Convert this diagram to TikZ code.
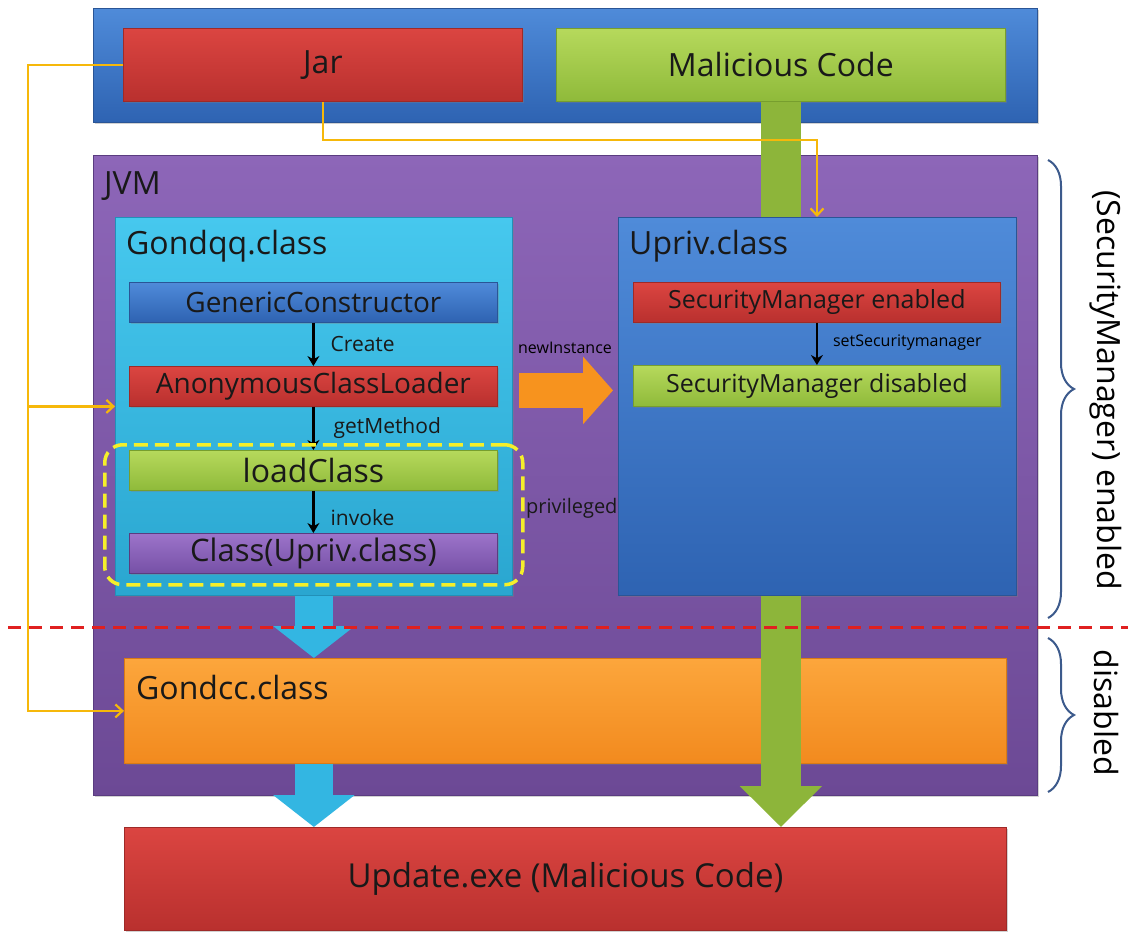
\documentclass[tikz,border=0pt]{standalone}
\usepackage{fontspec}
\setmainfont{Open Sans}
\usetikzlibrary{arrows.meta,calc,decorations.pathreplacing,shadows}
\definecolor{blueT}{HTML}{4F8BD9}
\definecolor{blueB}{HTML}{2E63B2}
\definecolor{blueD}{HTML}{2A5596}
\definecolor{redT}{HTML}{DB4541}
\definecolor{redB}{HTML}{B9302E}
\definecolor{redD}{HTML}{9E2A28}
\definecolor{grnT}{HTML}{B6D95C}
\definecolor{grnB}{HTML}{8FBA3A}
\definecolor{grnD}{HTML}{779E2E}
\definecolor{purT}{HTML}{8D66B8}
\definecolor{purB}{HTML}{6C4995}
\definecolor{purD}{HTML}{5A3C80}
\definecolor{cyaT}{HTML}{46C8EE}
\definecolor{cyaB}{HTML}{2AA6D0}
\definecolor{cyaD}{HTML}{2290B8}
\definecolor{cpuT}{HTML}{9C74CA}
\definecolor{cpuB}{HTML}{7650A6}
\definecolor{oraT}{HTML}{FCA63C}
\definecolor{oraB}{HTML}{F28A1E}
\definecolor{oraD}{HTML}{D97A15}
\definecolor{goldC}{HTML}{F6B80A}
\definecolor{yelC}{HTML}{F5EF2A}
\definecolor{braceC}{HTML}{3C5A8C}
\definecolor{greenArr}{HTML}{8DB53A}
\definecolor{cyanArr}{HTML}{33B6E2}
\definecolor{orgArr}{HTML}{F7931E}
\definecolor{dashRed}{HTML}{E02020}
\begin{document}
\begin{tikzpicture}[x=1pt,y=-1pt,
  base/.style={inner sep=0pt, anchor=north west, line width=0.8pt, text=black!90,
    drop shadow={opacity=0.35, shadow xshift=2pt, shadow yshift=-2pt}},
  bigf/.style={font=\fontsize{32}{36}\selectfont},
  barf/.style={font=\fontsize{28}{32}\selectfont},
  smbarf/.style={font=\fontsize{25}{29}\selectfont},
  smf/.style={font=\fontsize{21}{25}\selectfont},
  tinyf/.style={font=\fontsize{16}{19}\selectfont},
  bluebox/.style={top color=blueT, bottom color=blueB, draw=blueD},
  redbox/.style={top color=redT, bottom color=redB, draw=redD},
  grnbox/.style={top color=grnT, bottom color=grnB, draw=grnD},
  purbox/.style={top color=purT, bottom color=purB, draw=purD},
  cyabox/.style={top color=cyaT, bottom color=cyaB, draw=cyaD},
  cpubox/.style={top color=cpuT, bottom color=cpuB, draw=purD},
  orabox/.style={top color=oraT, bottom color=oraB, draw=oraD},
  title/.style={bigf, anchor=west, text=black!90, inner sep=0pt},
  conn/.style={draw=goldC, line width=2.2pt, -{Straight Barb[length=7pt,width=13pt]}},
  blk/.style={draw=black, line width=2.6pt, -{Stealth[length=10pt,width=12pt]}},
  lbl/.style={smf, anchor=west, text=black!90, inner sep=0pt},
  brc/.style={draw=braceC, line width=2pt, decorate, decoration={brace, amplitude=26pt, aspect=0.5}}
]
\useasboundingbox (0,0) rectangle (1128,932);
\fill[white] (0,0) rectangle (1128,932);

% top
\node[base, bluebox, minimum width=944pt, minimum height=114pt] (top) at (93,8) {};
\node[base, redbox, bigf, minimum width=399pt, minimum height=73pt] (jar) at (123,28) {Jar};
\node[base, grnbox, bigf, minimum width=449pt, minimum height=73pt] (mal) at (556,28) {Malicious Code};

% JVM
\node[base, purbox, minimum width=944pt, minimum height=640pt] (jvm) at (93,155) {};
\node[title] (jvml) at (104,186) {JVM};

% green bar from malicious code
\fill[greenArr] ($(mal.south)+(-20,0)$) rectangle ($(mal.south |- 0,217)+(20,0)$);

% Gondqq
\node[base, cyabox, minimum width=397pt, minimum height=378pt] (gqq) at (115,217) {};
\node[title] (gqql) at (126,246) {Gondqq.class};
\node[base, bluebox, barf, minimum width=368pt, minimum height=40pt] (gc) at (129,282) {GenericConstructor};
\node[base, redbox, barf, minimum width=368pt, minimum height=40pt] (acl) at (129,366) {AnonymousClassLoader};
\node[base, grnbox, bigf, minimum width=368pt, minimum height=40pt] (lc) at (129,450) {loadClass};
\node[base, cpubox, font=\fontsize{31}{35}\selectfont, minimum width=368pt, minimum height=40pt] (cls) at (129,533) {Class(Upriv.class)};

\draw[blk] (gc.south) -- (acl.north);
\draw[blk] (acl.south) -- (lc.north);
\draw[blk] (lc.south) -- (cls.north);
\node[lbl] (lcreate) at ($(gc.south)!0.5!(acl.north)+(17,0)$) {Create};
\node[lbl] (lget) at ($(acl.south)!0.5!(lc.north)+(20,0)$) {getMethod};
\node[lbl] (linv) at ($(lc.south)!0.5!(cls.north)+(17,6)$) {invoke};

\node[draw=yelC, line width=3.5pt, dash pattern=on 14pt off 7pt, rounded corners=18pt,
  minimum width=418pt, minimum height=140pt, anchor=north west, inner sep=0pt] (priv) at (103,443) {};
\node[lbl, font=\fontsize{20}{24}\selectfont] (lpriv) at (526,508) {privileged};

% Upriv
\node[base, bluebox, minimum width=398pt, minimum height=378pt] (upriv) at (618,217) {};
\node[title] (uprivl) at (629,246) {Upriv.class};
\node[base, redbox, smbarf, minimum width=367pt, minimum height=40pt] (sme) at (633,282) {SecurityManager enabled};
\node[base, grnbox, smbarf, minimum width=367pt, minimum height=41pt] (smd) at (633,365) {SecurityManager disabled};
\draw[blk] (sme.south) -- (smd.north);
\node[tinyf, anchor=west, inner sep=0pt] (lsec) at ($(sme.south)!0.5!(smd.north)+(16,-1)$) {setSecuritymanager};

% newInstance arrow
\draw[draw=orgArr, line width=35pt, -{Triangle[width=66pt,length=30pt]}] ($(acl.east)+(21,4)$) -- ($(upriv.west |- acl.east)+(-5,4)$);
\node[tinyf, inner sep=0pt] (lnew) at (565,348) {newInstance};

% Gondcc
\node[base, orabox, minimum width=882pt, minimum height=105pt] (gcc) at (124,658) {};
\node[title, font=\fontsize{32}{36}\selectfont] (gccl) at (136,688) {Gondcc.class};

% Update.exe
\node[base, redbox, font=\fontsize{33}{38}\selectfont, minimum width=882pt, minimum height=103pt] (upd) at (124,827) {Update.exe (Malicious Code)};

% block arrows
\draw[draw=greenArr, line width=40pt, -{Triangle[width=80pt,length=41pt]}] (mal.south |- upriv.south) -- (mal.south |- upd.north);
\draw[draw=cyanArr, line width=38pt, -{Triangle[width=80pt,length=32pt]}] (gqq.south) -- (gqq.south |- gcc.north);
\draw[draw=cyanArr, line width=38pt, -{Triangle[width=80pt,length=32pt]}] (gqq.south |- gcc.south) -- (gqq.south |- upd.north);

% red dashed divider
\coordinate (dl) at (8,627);
\coordinate (dr) at (1128,627);
\draw[dashRed, line width=3pt, dash pattern=on 13pt off 8pt] (dl) -- (dr);

% yellow connectors
\coordinate (bus) at (28,65);
\draw[conn] (jar.west) -| (bus |- gqq.west) -- (gqq.west);
\draw[conn] (bus |- gqq.west) |- (gcc.west);
\coordinate (j2) at (817,140);
\draw[conn] (jar.south) |- (j2) -- (j2 |- upriv.north);

% braces
\coordinate (b1t) at (1048,160);
\coordinate (b1b) at (1048,618);
\coordinate (b2t) at (1048,638);
\coordinate (b2b) at (1048,792);
\draw[brc] (b1t) -- (b1b);
\draw[brc] (b2t) -- (b2b);
\node[bigf, rotate=-90, inner sep=0pt] (enl) at (1106,390) {(SecurityManager) enabled};
\node[bigf, rotate=-90, inner sep=0pt] (dis) at (1106,713) {disabled};
\end{tikzpicture}
\end{document}
